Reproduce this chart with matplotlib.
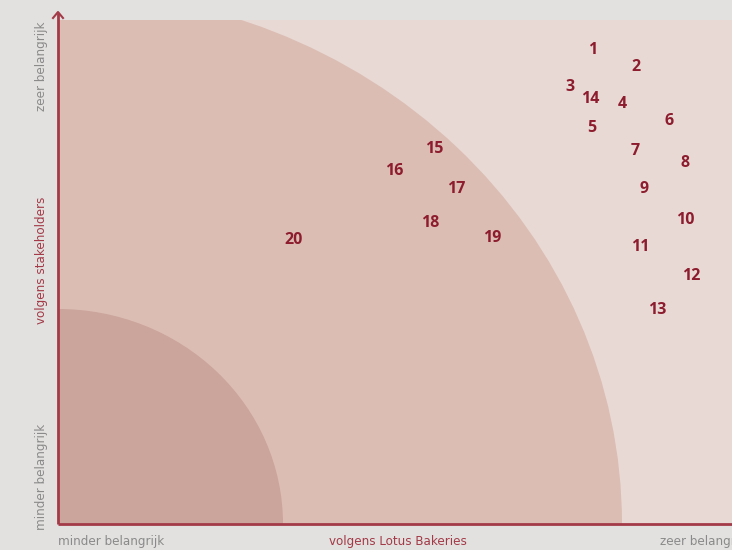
import matplotlib.pyplot as plt
from matplotlib.patches import Ellipse

# ── Data (materiality matrix, scores in plot units) ───────────────────────────
topics = ["1", "2", "3", "14", "4", "5", "6", "7", "8", "9", "10",
          "11", "12", "13", "15", "16", "17", "18", "19", "20"]
score_lotus = [535, 578, 512, 532, 564, 534, 611, 577, 627, 586, 627,
               582, 633, 599, 376, 336, 398, 372, 434, 236]
score_stakeholders = [474, 457, 437, 425, 420, 396, 403, 373, 361, 335, 304,
                      277, 248, 214, 375, 353, 335, 301, 286, 284]

# quarter-ellipse zones (radius x, radius y)
zone_outer = (564, 533)
zone_inner = (225, 215)

XMAX, YMAX = 674, 504

BG = "#e2e1df"
PLOT_BG = "#e8d9d4"
OUTER = "#dbbdb4"
INNER = "#cba49b"
RED = "#8c1c2e"
AXIS = "#a33a48"
GREY = "#8a8a8a"
FONT = ["DejaVu Sans Condensed", "DejaVu Sans"]
LBL = dict(fontsize=9.5, family=FONT, fontstretch="condensed", clip_on=False)

fig = plt.figure(figsize=(7.32, 5.5), dpi=100, facecolor=BG)
ax = fig.add_axes([58 / 732, 26 / 550, XMAX / 732, YMAX / 550])
ax.set_xlim(0, XMAX)
ax.set_ylim(0, YMAX)
ax.set_facecolor(PLOT_BG)
for s in ax.spines.values():
    s.set_visible(False)
ax.set_xticks([])
ax.set_yticks([])

ax.add_patch(Ellipse((0, 0), 2 * zone_outer[0], 2 * zone_outer[1],
                     facecolor=OUTER, edgecolor="none", zorder=1))
ax.add_patch(Ellipse((0, 0), 2 * zone_inner[0], 2 * zone_inner[1],
                     facecolor=INNER, edgecolor="none", zorder=2))

for t, x, y in zip(topics, score_lotus, score_stakeholders):
    ax.text(x, y, t, ha="center", va="center", color=RED, fontsize=11.5,
            fontweight="bold", family=["Open Sans", "DejaVu Sans"], zorder=5)

# axes lines
ax.plot([0, XMAX + 20], [0, 0], color=AXIS, lw=2, clip_on=False, zorder=6,
        solid_capstyle="butt")
ax.plot([0, 0], [0, 511], color=AXIS, lw=2, clip_on=False, zorder=6,
        solid_capstyle="butt")
ax.plot([-5, 0, 5], [506, 512, 506], color=AXIS, lw=1.5, clip_on=False,
        zorder=6)

# axis labels
ax.text(-16, 458, "zeer belangrijk", rotation=90, ha="center", va="center",
        color=GREY, **LBL)
ax.text(-16, 264, "volgens stakeholders", rotation=90, ha="center",
        va="center", color=AXIS, **LBL)
ax.text(-16, 47, "minder belangrijk", rotation=90, ha="center", va="center",
        color=GREY, **LBL)
ax.text(0, -17, "minder belangrijk", ha="left", va="center",
        color=GREY, **LBL)
ax.text(340, -17, "volgens Lotus Bakeries", ha="center", va="center",
        color=AXIS, **LBL)
ax.text(602, -17, "zeer belangrijk", ha="left", va="center",
        color=GREY, **LBL)

fig.savefig("out.png", dpi=100, facecolor=BG)
